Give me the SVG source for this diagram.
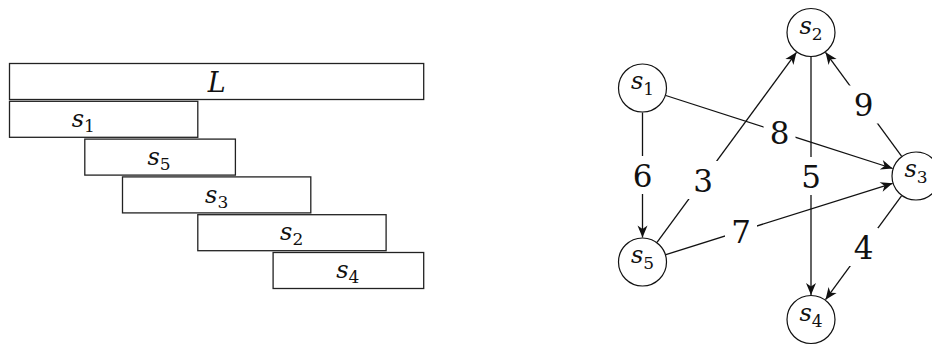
<svg xmlns="http://www.w3.org/2000/svg" width="932" height="345" viewBox="0 0 932 345">
<style>
.box{fill:#fff;stroke:#222;stroke-width:1.3}
.node{fill:#fff;stroke:#111;stroke-width:1.2}
.edge{stroke:#111;stroke-width:1.3;fill:none;marker-end:url(#arr)}
.lbg{fill:#fff;stroke:none}
text{font-family:"DejaVu Serif",serif;fill:#111;text-anchor:middle}
.nl{font-size:24px}
.big{font-size:27px}
.el{font-size:31px}
.it{font-style:italic}
.sub{font-size:17px}
</style>
<defs>
<marker id="arr" markerUnits="userSpaceOnUse" markerWidth="16" markerHeight="12" viewBox="-13 -6 14 12" refX="0" refY="0" orient="auto">
<path d="M0,0 L-12,-5 L-8.5,0 L-12,5 Z" fill="#111"/>
</marker>
</defs>
<g id="left">
<g id="rect-L"><rect class="box" x="9.5" y="63.5" width="414.2" height="36"/><text class="big it" x="216.7" y="91.5">L</text></g>
<g id="rect-s1"><rect class="box" x="9.5" y="101.3" width="188.3" height="36"/><text class="nl" x="83.3" y="126.7"><tspan class="it">s</tspan><tspan class="sub" dy="5">1</tspan></text></g>
<g id="rect-s5"><rect class="box" x="84.8" y="139.1" width="150.6" height="36"/><text class="nl" x="159" y="164.5"><tspan class="it">s</tspan><tspan class="sub" dy="5">5</tspan></text></g>
<g id="rect-s3"><rect class="box" x="122.5" y="176.9" width="188.3" height="36"/><text class="nl" x="216.7" y="202.5"><tspan class="it">s</tspan><tspan class="sub" dy="5">3</tspan></text></g>
<g id="rect-s2"><rect class="box" x="197.8" y="214.7" width="188.3" height="36"/><text class="nl" x="291.7" y="240.3"><tspan class="it">s</tspan><tspan class="sub" dy="5">2</tspan></text></g>
<g id="rect-s4"><rect class="box" x="273.1" y="252.5" width="150.6" height="36"/><text class="nl" x="347.8" y="278.1"><tspan class="it">s</tspan><tspan class="sub" dy="5">4</tspan></text></g>
</g>
<g id="connectors">
<line class="edge" x1="642.5" y1="112.5" x2="642.5" y2="237.5"/>
<line class="edge" x1="665.8" y1="95.5" x2="892.7" y2="168.5"/>
<line class="edge" x1="657.0" y1="242.3" x2="796.5" y2="52.3"/>
<line class="edge" x1="811" y1="57" x2="811" y2="295"/>
<line class="edge" x1="665.9" y1="254.6" x2="892.6" y2="183.3"/>
<line class="edge" x1="901.5" y1="156.2" x2="825.5" y2="52.3"/>
<line class="edge" x1="901.5" y1="195.8" x2="825.5" y2="299.7"/>
<g id="edge-labels">
<rect class="lbg" x="627.5" y="156" width="30" height="38"/><text class="el" x="642.5" y="186.5">6</text>
<rect class="lbg" x="763.5" y="113" width="32" height="38"/><text class="el" x="779.5" y="143.5">8</text>
<rect class="lbg" x="688" y="161" width="30" height="38"/><text class="el" x="703" y="191.5">3</text>
<rect class="lbg" x="796" y="157" width="30" height="38"/><text class="el" x="811" y="187.5">5</text>
<rect class="lbg" x="725" y="212" width="32" height="38"/><text class="el" x="741" y="242.5">7</text>
<rect class="lbg" x="848.5" y="85.5" width="30" height="38"/><text class="el" x="863.5" y="115.5">9</text>
<rect class="lbg" x="848.5" y="228" width="30" height="38"/><text class="el" x="863.5" y="258.5">4</text>
</g>
</g>
<g id="node-s1"><circle class="node" cx="642.5" cy="88" r="24"/><text class="nl" x="642.5" y="89"><tspan class="it">s</tspan><tspan class="sub" dy="6">1</tspan></text></g>
<g id="node-s2"><circle class="node" cx="811" cy="32.5" r="24"/><text class="nl" x="811" y="33.5"><tspan class="it">s</tspan><tspan class="sub" dy="6">2</tspan></text></g>
<g id="node-s3"><circle class="node" cx="916" cy="176" r="24"/><text class="nl" x="916" y="177"><tspan class="it">s</tspan><tspan class="sub" dy="6">3</tspan></text></g>
<g id="node-s4"><circle class="node" cx="811" cy="319.5" r="24"/><text class="nl" x="811" y="320.5"><tspan class="it">s</tspan><tspan class="sub" dy="6">4</tspan></text></g>
<g id="node-s5"><circle class="node" cx="642.5" cy="262" r="24"/><text class="nl" x="642.5" y="263"><tspan class="it">s</tspan><tspan class="sub" dy="6">5</tspan></text></g>
</svg>
